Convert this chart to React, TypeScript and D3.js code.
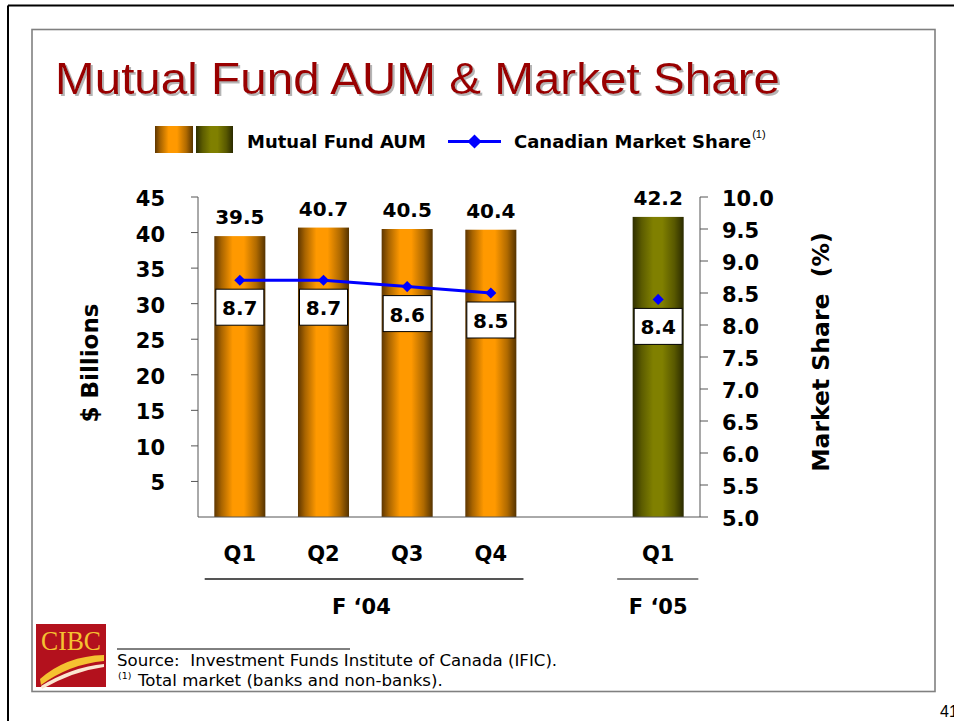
import React from "react";
import * as d3 from "d3";

// ---- Data ----
const periodKeys = ["F04-Q1", "F04-Q2", "F04-Q3", "F04-Q4", "F05-Q1"];
const slotKeys = ["F04-Q1", "F04-Q2", "F04-Q3", "F04-Q4", "gap", "F05-Q1"];
const quarterLabels = ["Q1", "Q2", "Q3", "Q4", "Q1"];
const aumBillions = [39.5, 40.7, 40.5, 40.4, 42.2];
const marketSharePct = [8.7, 8.7, 8.6, 8.5, 8.4];
const barStyleKeys = ["orange", "orange", "orange", "orange", "olive"];
const lineConnected = [true, true, true, true, false];
const fiscalGroupNames = ["F ‘04", "F ‘05"];
const fiscalGroupMembers = [
  ["F04-Q1", "F04-Q2", "F04-Q3", "F04-Q4"],
  ["F05-Q1"],
];
const leftTickValues = [5, 10, 15, 20, 25, 30, 35, 40, 45];
const rightTickValues = [5.0, 5.5, 6.0, 6.5, 7.0, 7.5, 8.0, 8.5, 9.0, 9.5, 10.0];

const titleText = "Mutual Fund AUM & Market Share";
const legendBarLabel = "Mutual Fund AUM";
const legendLineLabel = "Canadian Market Share";
const leftAxisTitle = "$ Billions";
const rightAxisTitle = "Market Share  (%)";
const sourceText = "Source:  Investment Funds Institute of Canada (IFIC).";
const footnoteText = "Total market (banks and non-banks).";
const pageNumber = "41";

const BOLD = "'DejaVu Sans', Verdana, sans-serif";
const SANS = "'Liberation Sans', Arial, sans-serif";

export default function App() {
  const plotLeft = 198;
  const plotRight = 700;
  const plotTop = 197;
  const plotBottom = 517;

  const x = d3.scaleBand<string>().domain(slotKeys).range([plotLeft, plotRight]).padding(0);
  const step = x.bandwidth();
  const barW = step * 0.61;
  const cx = (k: string) => (x(k) as number) + step / 2;
  const yL = d3.scaleLinear().domain([0, 45]).range([plotBottom, plotTop]);
  const yR = d3.scaleLinear().domain([5, 10]).range([plotBottom, plotTop]);

  const linePts = periodKeys
    .map((k, i) => ({ k, v: marketSharePct[i], c: lineConnected[i] }))
    .filter((d) => d.c);
  const lineGen = d3
    .line<{ k: string; v: number }>()
    .x((d) => cx(d.k))
    .y((d) => yR(d.v));

  const diamond = d3.symbol().type(d3.symbolSquare).size(62)();
  const legendDiamond = d3.symbol().type(d3.symbolSquare).size(100)();

  const fill = (s: string) => (s === "orange" ? "url(#gOrange)" : "url(#gOlive)");
  const groupExtL = [0.42, 0.49];
  const groupExtR = [0.39, 0.48];

  return (
    <svg
      width={954}
      height={721}
      style={{ position: "absolute", left: 0, top: 0, background: "#fff" }}
    >
      <defs>
        <linearGradient id="gOrange" x1="0" x2="1" y1="0" y2="0">
          <stop offset="0%" stopColor="#5e3600" />
          <stop offset="14%" stopColor="#a86400" />
          <stop offset="36%" stopColor="#ff9900" />
          <stop offset="58%" stopColor="#ff9900" />
          <stop offset="82%" stopColor="#b06a00" />
          <stop offset="100%" stopColor="#553300" />
        </linearGradient>
        <linearGradient id="gOlive" x1="0" x2="1" y1="0" y2="0">
          <stop offset="0%" stopColor="#2e2e00" />
          <stop offset="18%" stopColor="#5c5c00" />
          <stop offset="40%" stopColor="#808000" />
          <stop offset="58%" stopColor="#808000" />
          <stop offset="82%" stopColor="#585800" />
          <stop offset="100%" stopColor="#2a2a00" />
        </linearGradient>
        <filter id="titleShadow" x="-5%" y="-20%" width="110%" height="150%">
          <feDropShadow dx="2" dy="2" stdDeviation="0.6" floodColor="#a8a8a8" floodOpacity="0.85" />
        </filter>
      </defs>

      <rect x={0} y={0} width={954} height={721} fill="#fff" />
      {/* outer page border */}
      <line x1={8} y1={5.5} x2={954} y2={5.5} stroke="#000" strokeWidth={2} />
      <line x1={8} y1={5.5} x2={8} y2={721} stroke="#000" strokeWidth={2} />
      {/* inner frame */}
      <rect x={32} y={29.5} width={903} height={662} fill="none" stroke="#808080" strokeWidth={1.6} />

      {/* title */}
      <text
        x={55}
        y={94}
        fontFamily={SANS}
        fontSize={44}
        fill="#990000"
        textLength={725}
        lengthAdjust="spacingAndGlyphs"
        filter="url(#titleShadow)"
      >
        {titleText}
      </text>

      {/* legend */}
      <rect x={155} y={126} width={38} height={27} fill="url(#gOrange)" />
      <rect x={196} y={126} width={37} height={27} fill="url(#gOlive)" />
      <text x={247} y={147.5} fontFamily={BOLD} fontWeight="bold" fontSize={18} fill="#000">
        {legendBarLabel}
      </text>
      <line x1={448} y1={141.5} x2={501} y2={141.5} stroke="#0000ff" strokeWidth={3} />
      <path d={legendDiamond} transform="translate(474.5,141.5) rotate(45)" fill="#0000ff" />
      <text x={514} y={147.5} fontFamily={BOLD} fontWeight="bold" fontSize={18} fill="#000">
        {legendLineLabel}
        <tspan fontFamily={SANS} fontWeight="normal" fontSize={11} dy={-10} dx={1}>
          (1)
        </tspan>
      </text>

      {/* bars */}
      {periodKeys.map((k, i) => (
        <rect
          key={"bar" + k}
          x={cx(k) - barW / 2}
          y={yL(aumBillions[i])}
          width={barW}
          height={yL(0) - yL(aumBillions[i])}
          fill={fill(barStyleKeys[i])}
        />
      ))}
      {/* bar value labels */}
      {periodKeys.map((k, i) => (
        <text
          key={"bv" + k}
          x={cx(k)}
          y={yL(aumBillions[i]) - 12}
          textAnchor="middle"
          fontFamily={BOLD}
          fontWeight="bold"
          fontSize={20}
        >
          {aumBillions[i].toFixed(1)}
        </text>
      ))}

      {/* axes */}
      <line x1={plotLeft} y1={plotTop} x2={plotLeft} y2={plotBottom} stroke="#555" strokeWidth={1} />
      <line x1={plotRight} y1={plotTop} x2={plotRight} y2={plotBottom} stroke="#555" strokeWidth={1} />
      <line x1={plotLeft} y1={plotBottom} x2={plotRight} y2={plotBottom} stroke="#555" strokeWidth={1} />
      {leftTickValues.map((t) => (
        <g key={"lt" + t}>
          <line x1={plotLeft - 7} x2={plotLeft} y1={yL(t)} y2={yL(t)} stroke="#555" />
          <text
            x={165}
            y={yL(t) + 9}
            textAnchor="end"
            fontFamily={BOLD}
            fontWeight="bold"
            fontSize={21}
          >
            {t}
          </text>
        </g>
      ))}
      {rightTickValues.map((t) => (
        <g key={"rt" + t}>
          <line x1={plotRight} x2={plotRight + 8} y1={yR(t)} y2={yR(t)} stroke="#555" />
          <text x={722} y={yR(t) + 9} fontFamily={BOLD} fontWeight="bold" fontSize={21}>
            {t.toFixed(1)}
          </text>
        </g>
      ))}

      {/* axis titles */}
      <text
        transform={`translate(98,${(plotTop + plotBottom) / 2 + 6}) rotate(-90)`}
        textAnchor="middle"
        fontFamily={BOLD}
        fontWeight="bold"
        fontSize={23}
      >
        {leftAxisTitle}
      </text>
      <text
        transform={`translate(829,${(plotTop + plotBottom) / 2 - 5}) rotate(-90)`}
        textAnchor="middle"
        fontFamily={BOLD}
        fontWeight="bold"
        fontSize={23.5}
        xmlSpace="preserve"
        style={{ whiteSpace: "pre" }}
      >
        {rightAxisTitle}
      </text>

      {/* market share line */}
      <path d={lineGen(linePts) || ""} fill="none" stroke="#0000ff" strokeWidth={3} />
      {periodKeys.map((k, i) => (
        <path
          key={"dm" + k}
          d={diamond}
          transform={`translate(${cx(k)},${yR(marketSharePct[i])}) rotate(45)`}
          fill="#0000ff"
        />
      ))}
      {/* market share label boxes */}
      {periodKeys.map((k, i) => (
        <g key={"lb" + k}>
          <rect
            x={cx(k) - 24}
            y={yR(marketSharePct[i]) + 9}
            width={48}
            height={36}
            fill="#fff"
            stroke="#000"
            strokeWidth={1}
          />
          <text
            x={cx(k)}
            y={yR(marketSharePct[i]) + 35}
            textAnchor="middle"
            fontFamily={BOLD}
            fontWeight="bold"
            fontSize={20}
          >
            {marketSharePct[i].toFixed(1)}
          </text>
        </g>
      ))}

      {/* category labels */}
      {periodKeys.map((k, i) => (
        <text
          key={"cl" + k}
          x={cx(k)}
          y={561}
          textAnchor="middle"
          fontFamily={BOLD}
          fontWeight="bold"
          fontSize={21}
        >
          {quarterLabels[i]}
        </text>
      ))}
      {/* fiscal groups */}
      {fiscalGroupNames.map((g, gi) => {
        const m = fiscalGroupMembers[gi];
        const a = cx(m[0]) - groupExtL[gi] * step;
        const b = cx(m[m.length - 1]) + groupExtR[gi] * step;
        return (
          <g key={"fg" + g}>
            <line x1={a} x2={b} y1={579} y2={579} stroke={gi === 0 ? "#555" : "#888"} strokeWidth={2} />
            <text
              x={(cx(m[0]) + cx(m[m.length - 1])) / 2 + (gi === 0 ? -4 : 0)}
              y={614}
              textAnchor="middle"
              fontFamily={BOLD}
              fontWeight="bold"
              fontSize={21}
            >
              {g}
            </text>
          </g>
        );
      })}

      {/* CIBC logo */}
      <g>
        <rect x={36} y={624} width={70} height={63} fill="#b3111d" />
        <text
          x={71}
          y={650}
          textAnchor="middle"
          fontFamily="'Liberation Serif', 'Times New Roman', serif"
          fontSize={28}
          fill="#f5c231"
          textLength={60}
          lengthAdjust="spacingAndGlyphs"
        >
          CIBC
        </text>
        <path d="M40,679 Q66,656 104,655 L104,661 Q70,664 41,685 Z" fill="#f5c231" />
        <path d="M41,686 Q72,667 104,664 L104,667 Q74,671 42,689 Z" fill="#fbe6d0" />
      </g>

      {/* footer */}
      <line x1={117} x2={350} y1={649} y2={649} stroke="#000" strokeWidth={1} />
      <g transform="translate(117,0) scale(1.108,1)">
        <text x={0} y={666} fontFamily={BOLD} fontSize={15} xmlSpace="preserve" style={{ whiteSpace: "pre" }}>
          {sourceText}
        </text>
        <text x={1} y={679} fontFamily={BOLD} fontSize={8.5}>
          (1)
        </text>
        <text x={19} y={686} fontFamily={BOLD} fontSize={15}>
          {footnoteText}
        </text>
      </g>

      {/* page number */}
      <text x={940} y={717} fontFamily={SANS} fontSize={16}>
        {pageNumber}
      </text>
    </svg>
  );
}
